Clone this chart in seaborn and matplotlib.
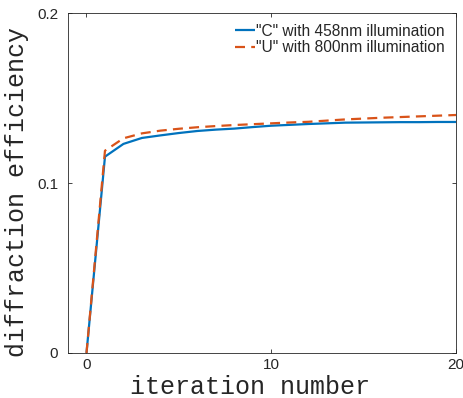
import pandas as pd
import seaborn as sns
import matplotlib.pyplot as plt

iterations = list(range(0, 21))
eff_c458 = [0.0, 0.1155, 0.1230, 0.1265, 0.1280, 0.1294, 0.1306, 0.1314, 0.1320, 0.1329,
            0.1337, 0.1342, 0.1347, 0.1351, 0.1355, 0.1356, 0.1357, 0.1358, 0.1358, 0.1359, 0.1359]
eff_u800 = [0.0, 0.1190, 0.1263, 0.1292, 0.1308, 0.1319, 0.1328, 0.1335, 0.1341, 0.1346,
            0.1351, 0.1356, 0.1360, 0.1367, 0.1374, 0.1379, 0.1384, 0.1388, 0.1392, 0.1396, 0.1400]
labels = ['"C" with 458nm illumination', '"U" with 800nm illumination']
colors = ["#0072BD", "#D95319"]

df = pd.concat([
    pd.DataFrame({"iteration": iterations, "eff": eff_c458, "series": labels[0]}),
    pd.DataFrame({"iteration": iterations, "eff": eff_u800, "series": labels[1]}),
])

sns.set_style("ticks")
plt.rcParams["font.family"] = ["Liberation Sans", "DejaVu Sans"]

fig = plt.figure(figsize=(4.64, 3.98), dpi=100)
ax = fig.add_axes([0.1466, 0.1131, 0.8362, 0.8542])
sns.lineplot(data=df, x="iteration", y="eff", hue="series", style="series",
             palette=colors, dashes=[(1, 0), (4.5, 2.8)], linewidth=1.6, ax=ax)

ax.set_xlim(-1, 20)
ax.set_ylim(0, 0.2)
ax.set_xticks([0, 10, 20])
ax.set_yticks([0, 0.1, 0.2])
ax.set_yticklabels(["0", "0.1", "0.2"])
ax.tick_params(direction="in", length=3, width=0.6, labelsize=11, colors="#262626",
               top=True, right=True)
ax.tick_params(axis="y", pad=7)
for s in ax.spines.values():
    s.set_color("#262626")
    s.set_linewidth(0.6)

ax.set_xlabel("iteration number", family="Liberation Mono", fontsize=18, color="#262626")
ax.xaxis.set_label_coords(0.47, -0.065, transform=ax.transAxes)
ax.xaxis.label.set_va("top")
ax.set_ylabel("diffraction efficiency", family="Liberation Mono", fontsize=18,
              color="#262626")
ax.yaxis.set_label_coords(-0.10, 0.474, transform=ax.transAxes)

leg = ax.legend(loc="upper right", frameon=False, fontsize=11.2, handlelength=1.3,
                handletextpad=0.1, borderaxespad=0.3, labelspacing=0.1)

fig.savefig("out.png", dpi=100)
